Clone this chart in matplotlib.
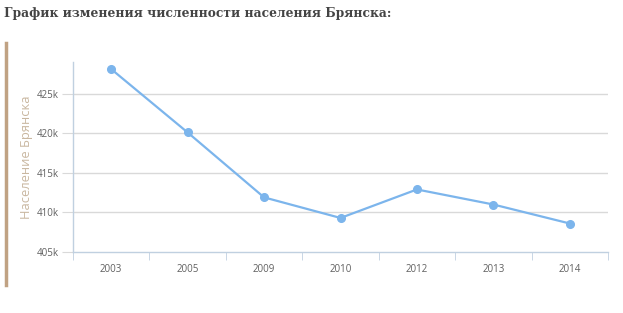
import matplotlib
matplotlib.use("Agg")
import matplotlib.pyplot as plt
from matplotlib.lines import Line2D
from matplotlib.ticker import FuncFormatter

years = ["2003", "2005", "2009", "2010", "2012", "2013", "2014"]
population_k = [428.1, 420.1, 411.9, 409.3, 412.9, 411.0, 408.6]
y_ticks = [405, 410, 415, 420, 425]

W, H = 623, 313
fig = plt.figure(figsize=(W / 100, H / 100), dpi=100)
fig.patch.set_facecolor("white")

ax = fig.add_axes([73 / W, 1 - 252 / H, (608 - 73) / W, (252 - 62) / H])
x = list(range(len(years)))
ax.plot(x, population_k, color="#7cb5ec", lw=1.6, marker="o", ms=5.5,
        markeredgecolor="#7cb5ec", markerfacecolor="#7cb5ec", zorder=3)

ax.set_xlim(-0.5, len(years) - 0.5)
ax.set_ylim(405, 429)
ax.set_yticks(y_ticks)
ax.yaxis.set_major_formatter(FuncFormatter(lambda v, p: f"{int(v)}k"))
ax.set_xticks(x)
ax.set_xticklabels(years)
ax.set_xticks([i - 0.5 for i in range(len(years) + 1)], minor=True)

for v in y_ticks[1:]:
    ax.axhline(v, color="#d9d9d9", lw=1, zorder=1)

for s in ["top", "right"]:
    ax.spines[s].set_visible(False)
ax.spines["left"].set_color("#c0d0e0")
ax.spines["bottom"].set_color("#c0d0e0")
ax.spines["left"].set_linewidth(1)
ax.spines["bottom"].set_linewidth(1)

ax.tick_params(axis="y", length=8, color="#d9d9d9", labelsize=7, labelcolor="#606060", pad=2)
ax.tick_params(axis="x", which="major", length=0, labelsize=7, labelcolor="#606060", pad=9)
ax.tick_params(axis="x", which="minor", length=6, color="#c0d0e0")
for lab in ax.get_xticklabels() + ax.get_yticklabels():
    lab.set_family("Open Sans")

ax.set_ylabel("Население Брянска", fontsize=9.3, color="#c9b7a0", family="Open Sans")
ax.yaxis.set_label_coords(-0.075, 0.5)

fig.text(4 / W, 1 - 14 / H, "График изменения численности населения Брянска:",
         fontsize=8.8, fontweight="bold", color="#444444", family="DejaVu Serif",
         ha="left", va="center")

fig.add_artist(Line2D([6 / W, 6 / W], [1 - 43 / H, 1 - 285 / H], color="#c0a283", lw=2.5))

fig.savefig("out.png", dpi=100)
